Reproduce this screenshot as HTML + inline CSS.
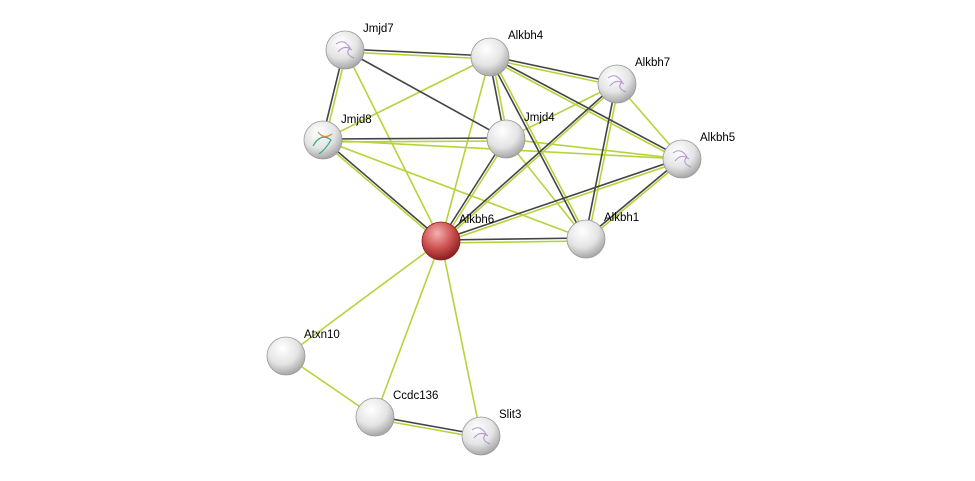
<!DOCTYPE html>
<html><head><meta charset="utf-8"><style>
html,body{margin:0;padding:0;background:#fff;}
svg{display:block;}
text{font-family:"Liberation Sans",sans-serif;font-size:11.5px;fill:#000;}
</style></head><body>
<svg width="975" height="481" viewBox="0 0 975 481">
<defs>
<radialGradient id="g" cx="40%" cy="30%" r="70%">
<stop offset="0" stop-color="#ffffff"/><stop offset="0.6" stop-color="#e4e4e4"/><stop offset="1" stop-color="#a8a8a8"/>
</radialGradient>
<radialGradient id="r" cx="40%" cy="30%" r="70%">
<stop offset="0" stop-color="#f4b0b0"/><stop offset="0.55" stop-color="#d05454"/><stop offset="1" stop-color="#8a2020"/>
</radialGradient>
</defs>
<g stroke-width="1.6" fill="none">
<g stroke="#b5d43a">
<line x1="345" y1="50" x2="441" y2="241"/>
<line x1="490" y1="57" x2="323" y2="140"/>
<line x1="490" y1="57" x2="441" y2="241"/>
<line x1="617" y1="84" x2="506" y2="139"/>
<line x1="617" y1="84" x2="682" y2="159"/>
<line x1="323" y1="140" x2="682" y2="159"/>
<line x1="323" y1="140" x2="586" y2="239"/>
<line x1="506" y1="139" x2="586" y2="239"/>
<line x1="506" y1="139" x2="682" y2="159"/>
<line x1="441" y1="241" x2="286" y2="356"/>
<line x1="441" y1="241" x2="375" y2="417"/>
<line x1="441" y1="241" x2="481" y2="436"/>
<line x1="286" y1="356" x2="375" y2="417"/>
<!-- green halves of pairs -->
<line x1="345" y1="52" x2="490" y2="59"/>
<line x1="347" y1="50" x2="325" y2="140"/>
<line x1="490" y1="59" x2="617" y2="86"/>
<line x1="490" y1="59" x2="682" y2="161"/>
<line x1="492" y1="57" x2="508" y2="139"/>
<line x1="492" y1="57" x2="588" y2="239"/>
<line x1="619" y1="84" x2="588" y2="239"/>
<line x1="617" y1="86" x2="441" y2="243"/>
<line x1="323" y1="142" x2="506" y2="141"/>
<line x1="323" y1="142" x2="441" y2="243"/>
<line x1="508" y1="139" x2="443" y2="241"/>
<line x1="682" y1="161" x2="586" y2="241"/>
<line x1="682" y1="161" x2="441" y2="243"/>
<line x1="441" y1="243" x2="586" y2="241"/>
<line x1="375" y1="419" x2="481" y2="438"/>
</g>
<g stroke="#444">
<line x1="345" y1="50" x2="506" y2="139"/>
<line x1="345" y1="49" x2="490" y2="56"/>
<line x1="344" y1="50" x2="322" y2="140"/>
<line x1="490" y1="56" x2="617" y2="83"/>
<line x1="490" y1="56" x2="682" y2="158"/>
<line x1="489" y1="57" x2="505" y2="139"/>
<line x1="489" y1="57" x2="585" y2="239"/>
<line x1="616" y1="84" x2="585" y2="239"/>
<line x1="617" y1="83" x2="441" y2="240"/>
<line x1="323" y1="139" x2="506" y2="138"/>
<line x1="323" y1="139" x2="441" y2="240"/>
<line x1="505" y1="139" x2="440" y2="241"/>
<line x1="682" y1="158" x2="586" y2="238"/>
<line x1="682" y1="158" x2="441" y2="240"/>
<line x1="441" y1="240" x2="586" y2="238"/>
<line x1="375" y1="416" x2="481" y2="435"/>
</g>
</g>
<g stroke="#999" stroke-width="0.8">
<circle cx="345" cy="50" r="19" fill="url(#g)"/>
<circle cx="490" cy="57" r="19" fill="url(#g)"/>
<circle cx="617" cy="84" r="19" fill="url(#g)"/>
<circle cx="323" cy="140" r="19" fill="url(#g)"/>
<circle cx="506" cy="139" r="19" fill="url(#g)"/>
<circle cx="682" cy="159" r="19" fill="url(#g)"/>
<circle cx="441" cy="241" r="19" fill="url(#r)" stroke="#8a2020"/>
<circle cx="586" cy="239" r="19" fill="url(#g)"/>
<circle cx="286" cy="356" r="19" fill="url(#g)"/>
<circle cx="375" cy="417" r="19" fill="url(#g)"/>
<circle cx="481" cy="436" r="19" fill="url(#g)"/>
</g>
<g fill="none" stroke="#a07ac8" stroke-width="1" opacity="0.8">
<path d="M336 44 q8 -6 14 4 q-6 6 4 10 M338 52 q6 -8 14 -2"/>
<path d="M608 78 q8 -6 14 4 q-6 6 4 10 M610 86 q6 -8 14 -2"/>
<path d="M673 153 q8 -6 14 4 q-6 6 4 10 M675 161 q6 -8 14 -2"/>
<path d="M472 430 q8 -6 14 4 q-6 6 4 10 M474 438 q6 -8 14 -2"/>
</g>
<g fill="none" stroke-width="1.2"><path d="M313 146 q8 -14 18 -6 q-6 10 -12 14" stroke="#3aa88a"/><path d="M318 132 q6 8 14 2" stroke="#d88a3a"/></g>
<text x="363" y="32">Jmjd7</text>
<text x="508" y="39">Alkbh4</text>
<text x="635" y="66">Alkbh7</text>
<text x="341" y="123">Jmjd8</text>
<text x="524" y="121">Jmjd4</text>
<text x="700" y="141">Alkbh5</text>
<text x="459" y="223">Alkbh6</text>
<text x="604" y="221">Alkbh1</text>
<text x="304" y="338">Atxn10</text>
<text x="393" y="399">Ccdc136</text>
<text x="499" y="418">Slit3</text>
</svg>
</body></html>
